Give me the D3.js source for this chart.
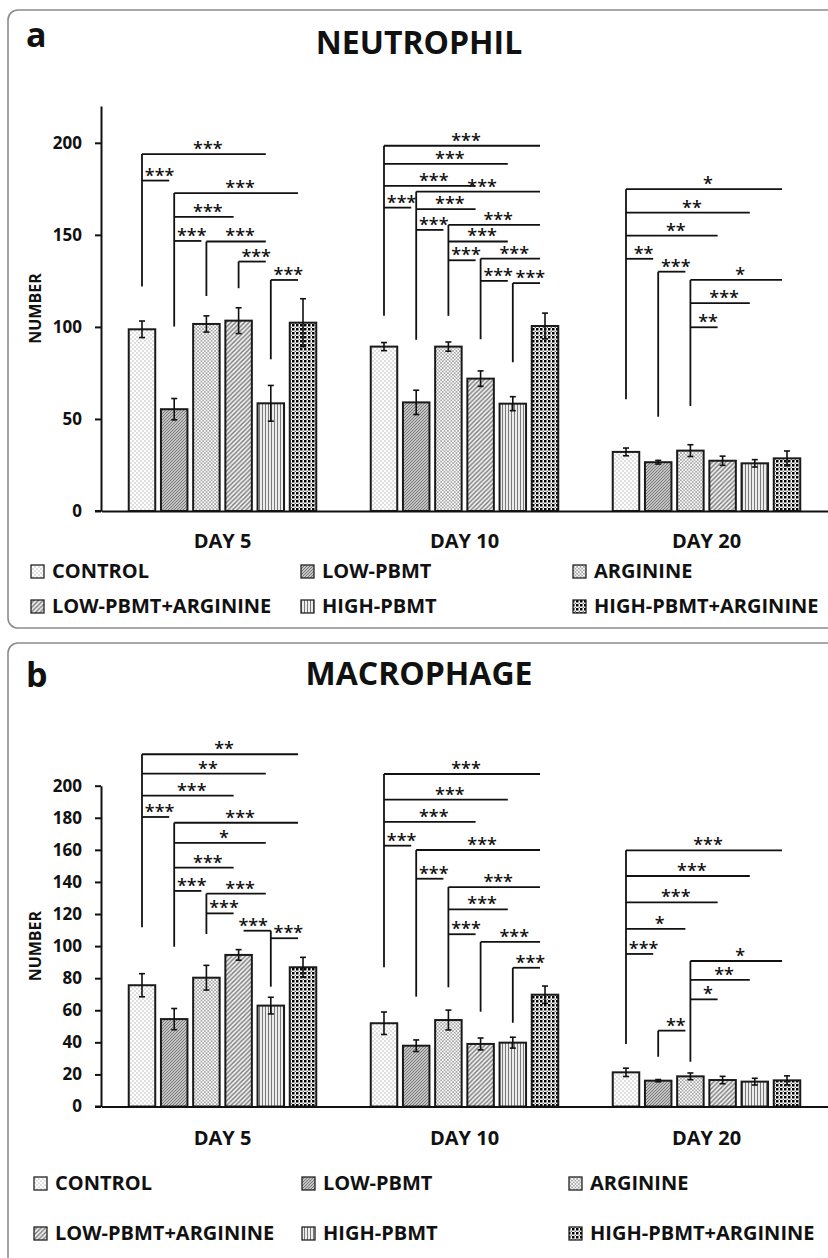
<!DOCTYPE html>
<html>
<head>
<meta charset="utf-8">
<script src="https://cdn.jsdelivr.net/npm/d3@7"></script>
<style>
  body { margin: 0; background: #fff; }
  text { font-family: "Open Sans", sans-serif; font-weight: 700; fill: #111; }
</style>
</head>
<body>
<script>
// categories
var days = ["DAY 5", "DAY 10", "DAY 20"];
var groups = ["CONTROL", "LOW-PBMT", "ARGININE", "LOW-PBMT+ARGININE", "HIGH-PBMT", "HIGH-PBMT+ARGININE"];

// neutrophil counts, one row per day
var neutrophilMean = [
  [98.7, 55.3, 101.6, 103.4, 58.5, 102.3],
  [89.3, 59.0, 89.3, 71.9, 58.3, 100.5],
  [32.1, 26.5, 32.8, 27.3, 25.9, 28.6]
];
var neutrophilErr = [
  [4.5, 5.8, 4.4, 7.0, 9.7, 13.0],
  [2.2, 6.6, 2.5, 4.2, 3.8, 7.0],
  [2.1, 1.0, 3.2, 2.5, 2.0, 4.0]
];
var neutrophilTicks = [0, 50, 100, 150, 200];

// macrophage counts
var macrophageMean = [
  [75.6, 54.5, 80.3, 94.5, 62.9, 86.8],
  [51.9, 37.9, 53.9, 39.0, 39.8, 69.7],
  [21.3, 16.1, 18.8, 16.5, 15.5, 16.3]
];
var macrophageErr = [
  [7.2, 6.6, 7.7, 3.3, 5.2, 6.2],
  [7.0, 3.6, 6.2, 3.7, 3.4, 5.4],
  [2.6, 0.7, 2.1, 2.3, 2.1, 2.8]
];
var macrophageTicks = [0, 20, 40, 60, 80, 100, 120, 140, 160, 180, 200];

// significance: [day, from bar, to bar, level, stars]
var neutrophilBrackets = [
  [0, 0, 4, 193.9, "***"], [0, 0, 1, 179.5, "***"], [0, 1, 5, 172.7, "***"], [0, 1, 3, 159.8, "***"],
  [0, 1, 2, 146.7, "***"], [0, 2, 4, 146.4, "***"], [0, 3, 4, 135.5, "***"], [0, 4, 5, 125.5, "***"],
  [1, 0, 5, 198.4, "***"], [1, 0, 4, 188.6, "***"], [1, 0, 3, 176.6, "***"], [1, 0, 1, 164.8, "***"],
  [1, 1, 5, 173.5, "***"], [1, 1, 3, 164.0, "***"], [1, 1, 2, 152.7, "***"], [1, 2, 5, 155.4, "***"],
  [1, 2, 4, 146.4, "***"], [1, 2, 3, 136.2, "***"], [1, 3, 5, 137.1, "***"], [1, 3, 4, 125.0, "***"],
  [1, 4, 5, 123.8, "***"],
  [2, 0, 5, 174.8, "*"], [2, 0, 4, 162.1, "**"], [2, 0, 3, 149.6, "**"], [2, 0, 1, 137.0, "**"],
  [2, 1, 2, 130.0, "***"], [2, 2, 5, 125.5, "*"], [2, 2, 4, 112.9, "***"], [2, 2, 3, 99.8, "**"]
];
// bracket stems: [day, bar, lower end]
var neutrophilStems = [
  [0, 0, 121.9], [0, 1, 100.2], [0, 2, 116.8], [0, 3, 121.0], [0, 4, 82.4],
  [1, 0, 106.0], [1, 1, 93.0], [1, 2, 106.0], [1, 3, 93.3], [1, 4, 80.8],
  [2, 0, 60.7], [2, 1, 51.2], [2, 2, 57.0]
];

var macrophageBrackets = [
  [0, 0, 5, 219.6, "**"], [0, 0, 4, 207.5, "**"], [0, 0, 3, 193.8, "***"], [0, 0, 1, 180.5, "***"],
  [0, 1, 5, 176.9, "***"], [0, 1, 4, 164.3, "*"], [0, 1, 3, 148.9, "***"], [0, 1, 2, 134.4, "***"],
  [0, 2, 4, 132.7, "***"], [0, 2, 3, 120.4, "***"], [0, 4, 3, 109.6, "***"], [0, 4, 5, 104.9, "***"],
  [1, 0, 5, 207.3, "***"], [1, 0, 4, 191.3, "***"], [1, 0, 3, 177.4, "***"], [1, 0, 1, 162.6, "***"],
  [1, 1, 5, 159.9, "***"], [1, 1, 2, 142.0, "***"], [1, 2, 5, 136.8, "***"], [1, 2, 4, 122.9, "***"],
  [1, 2, 3, 107.4, "***"], [1, 3, 5, 102.6, "***"], [1, 4, 5, 86.5, "***"],
  [2, 0, 5, 159.7, "***"], [2, 0, 4, 143.7, "***"], [2, 0, 3, 127.3, "***"], [2, 0, 2, 110.8, "*"],
  [2, 0, 1, 95.1, "***"], [2, 1, 2, 47.3, "**"], [2, 2, 5, 90.7, "*"], [2, 2, 4, 78.9, "**"],
  [2, 2, 3, 66.8, "*"]
];
var macrophageStems = [
  [0, 0, 111.7], [0, 1, 99.6], [0, 2, 107.5], [0, 4, 74.7],
  [1, 0, 86.8], [1, 1, 68.5], [1, 2, 74.3], [1, 3, 59.1], [1, 4, 52.2],
  [2, 0, 39.0], [2, 1, 31.0], [2, 2, 27.9]
];

var W = 828, H = 1258;
var svg = d3.select("body").append("svg").attr("width", W).attr("height", H);

// fill patterns, one per group
var defs = svg.append("defs");
function pat(id, size) {
  return defs.append("pattern").attr("id", id).attr("patternUnits", "userSpaceOnUse")
    .attr("width", size).attr("height", size);
}
var p0 = pat("p0", 4);
p0.append("rect").attr("width", 4).attr("height", 4).attr("fill", "#fff");
p0.append("circle").attr("cx", 1).attr("cy", 1).attr("r", 0.75).attr("fill", "#b0b0b0");
p0.append("circle").attr("cx", 3).attr("cy", 3).attr("r", 0.75).attr("fill", "#b0b0b0");
var p1 = pat("p1", 3);
p1.append("rect").attr("width", 3).attr("height", 3).attr("fill", "#c4c4c4");
p1.append("path").attr("d", "M0,3L3,0M-1,1L1,-1M2,4L4,2").attr("stroke", "#6e6e6e").attr("stroke-width", 0.9);
var p2 = pat("p2", 3.4);
p2.append("rect").attr("width", 3.4).attr("height", 3.4).attr("fill", "#fff");
p2.append("circle").attr("cx", 0.85).attr("cy", 0.85).attr("r", 0.85).attr("fill", "#888");
p2.append("circle").attr("cx", 2.55).attr("cy", 2.55).attr("r", 0.85).attr("fill", "#888");
var p3 = pat("p3", 4.5);
p3.append("rect").attr("width", 4.5).attr("height", 4.5).attr("fill", "#f2f2f2");
p3.append("path").attr("d", "M0,4.5L4.5,0M-1,1L1,-1M3.5,5.5L5.5,3.5").attr("stroke", "#777").attr("stroke-width", 1.4);
var p4 = pat("p4", 3);
p4.append("rect").attr("width", 3).attr("height", 3).attr("fill", "#ececec");
p4.append("rect").attr("x", 1).attr("width", 1).attr("height", 3).attr("fill", "#7a7a7a");
var p5 = pat("p5", 4);
p5.append("rect").attr("width", 4).attr("height", 4).attr("fill", "#fff");
p5.append("rect").attr("x", 0).attr("y", 0).attr("width", 2.5).attr("height", 2.5).attr("fill", "#000");
p5.append("circle").attr("cx", 3.25).attr("cy", 3.25).attr("r", 0.55).attr("fill", "#000");
var fills = ["url(#p0)", "url(#p1)", "url(#p2)", "url(#p3)", "url(#p4)", "url(#p5)"];

var panels = [
  { letter: "a", title: "NEUTROPHIL", means: neutrophilMean, errs: neutrophilErr, ticks: neutrophilTicks,
    yMax: 220, brackets: neutrophilBrackets, stems: neutrophilStems,
    boxTop: 10, boxBottom: 628, plotTop: 106, plotBottom: 511, titleY: 54, letterY: 47,
    dayPad: 23, legendY: [578, 613], swatchX: [31, 301, 573] },
  { letter: "b", title: "MACROPHAGE", means: macrophageMean, errs: macrophageErr, ticks: macrophageTicks,
    yMax: 200, brackets: macrophageBrackets, stems: macrophageStems,
    boxTop: 643, boxBottom: 1290, plotTop: 785.7, plotBottom: 1106.5, titleY: 685, letterY: 687,
    dayPad: 24, legendY: [1190, 1240], swatchX: [34, 302, 569] }
];

var x0 = d3.scaleBand().domain(days).range([101.5, 827.5]).paddingInner(0).paddingOuter(0);
var x1 = d3.scaleBand().domain(d3.range(groups.length)).range([0, x0.bandwidth()])
  .paddingInner(0.177).paddingOuter(0.846);
function cx(d, i) { return x0(days[d]) + x1(i) + x1.bandwidth() / 2; }

panels.forEach(function(p) {
  var g = svg.append("g");

  g.append("rect")
    .attr("x", 8).attr("y", p.boxTop)
    .attr("width", 860).attr("height", p.boxBottom - p.boxTop)
    .attr("rx", 10).attr("fill", "none").attr("stroke", "#8c8c8c").attr("stroke-width", 1.6);

  g.append("text").attr("x", 26).attr("y", p.letterY).style("font-size", "34px").text(p.letter);
  g.append("text").attr("x", 419).attr("y", p.titleY).attr("text-anchor", "middle")
    .style("font-size", "32px").text(p.title);

  var y = d3.scaleLinear().domain([0, p.yMax]).range([p.plotBottom, p.plotTop]);

  // y axis
  var ya = g.append("g").attr("transform", "translate(101,0)")
    .call(d3.axisLeft(y).tickValues(p.ticks).tickSizeOuter(0).tickSizeInner(6).tickPadding(13));
  ya.select(".domain").attr("stroke", "#111").attr("stroke-width", 2);
  ya.selectAll(".tick line").attr("stroke", "#111").attr("stroke-width", 2);
  ya.selectAll(".tick text").style("font-size", "17px").style("font-family", "'Open Sans', sans-serif")
    .style("font-weight", 700).attr("fill", "#111");

  g.append("text")
    .attr("transform", "translate(41," + ((p.plotTop + p.plotBottom) / 2) + ") rotate(-90)")
    .attr("text-anchor", "middle").style("font-size", "16px").text("NUMBER");

  // bars
  p.means.forEach(function(row, d) {
    g.append("g").selectAll("rect").data(row).enter().append("rect")
      .attr("x", function(v, i) { return x0(days[d]) + x1(i); })
      .attr("y", function(v) { return y(v); })
      .attr("width", x1.bandwidth())
      .attr("height", function(v) { return y(0) - y(v); })
      .attr("fill", function(v, i) { return fills[i]; })
      .attr("stroke", "#1a1a1a").attr("stroke-width", 2);

    var eg = g.append("g").attr("stroke", "#111").attr("stroke-width", 1.6);
    row.forEach(function(v, i) {
      var e = p.errs[d][i], c = cx(d, i);
      eg.append("line").attr("x1", c).attr("x2", c).attr("y1", y(v + e)).attr("y2", y(v - e));
      eg.append("line").attr("x1", c - 3).attr("x2", c + 3).attr("y1", y(v + e)).attr("y2", y(v + e));
      eg.append("line").attr("x1", c - 3).attr("x2", c + 3).attr("y1", y(v - e)).attr("y2", y(v - e));
    });
  });

  // x axis
  var xa = g.append("g").attr("transform", "translate(0," + p.plotBottom + ")")
    .call(d3.axisBottom(x0).tickSizeOuter(0).tickSizeInner(0).tickPadding(p.dayPad));
  xa.select(".domain").attr("stroke", "#111").attr("stroke-width", 2);
  xa.selectAll(".tick text").style("font-size", "20px").style("font-family", "'Open Sans', sans-serif")
    .style("font-weight", 700).attr("fill", "#111");
  g.append("line").attr("x1", 95).attr("x2", 101.5).attr("y1", p.plotBottom).attr("y2", p.plotBottom)
    .attr("stroke", "#111").attr("stroke-width", 2);

  // significance brackets
  var bg = g.append("g").attr("stroke", "#111").attr("stroke-width", 1.8).attr("fill", "none");
  p.stems.forEach(function(s) {
    var top = d3.max(p.brackets.filter(function(b) { return b[0] === s[0] && b[1] === s[1]; }),
      function(b) { return b[3]; });
    var c = cx(s[0], s[1]);
    bg.append("line").attr("x1", c).attr("x2", c).attr("y1", y(s[2])).attr("y2", y(top));
  });
  p.brackets.forEach(function(b) {
    var a = cx(b[0], b[1]), dir = b[2] > b[1] ? 1 : -1;
    var e = cx(b[0], b[2]) - 5 * dir;
    bg.append("line").attr("x1", a).attr("x2", e).attr("y1", y(b[3])).attr("y2", y(b[3]));
    g.append("text").attr("x", (a + e) / 2 + 4 * dir).attr("y", y(b[3]) + 1)
      .attr("text-anchor", "middle").style("font-size", "18px").style("font-weight", 600)
      .text(b[4]);
  });

  // legend
  groups.forEach(function(name, i) {
    var col = i % 3, rowI = Math.floor(i / 3);
    var lx = p.swatchX[col], ly = p.legendY[rowI];
    g.append("rect").attr("x", lx).attr("y", ly - 13).attr("width", 13).attr("height", 13)
      .attr("fill", fills[i]).attr("stroke", "#222").attr("stroke-width", 1.3);
    g.append("text").attr("x", lx + 21).attr("y", ly).style("font-size", "20px").text(name);
  });
});
</script>
</body>
</html>
